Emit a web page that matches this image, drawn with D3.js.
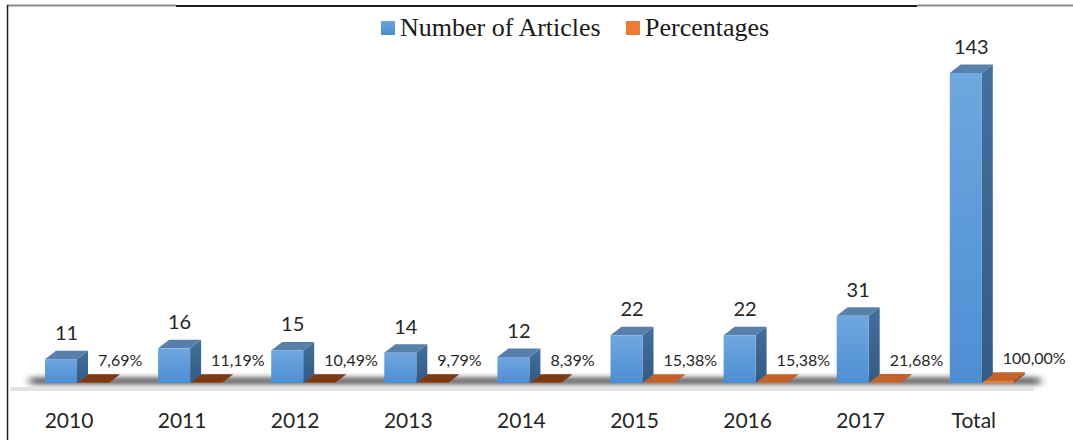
<!DOCTYPE html>
<html>
<head>
<meta charset="utf-8">
<script src="https://cdn.jsdelivr.net/npm/d3@7"></script>
<style>
  body { margin: 0; background: #fff; }
  svg { display: block; }
</style>
</head>
<body>
<div id="box"></div>
<script>
//Chart data
var categories = ["2010", "2011", "2012", "2013", "2014", "2015", "2016", "2017", "Total"];
var articles = [11, 16, 15, 14, 12, 22, 22, 31, 143];
var percentages = [0.0769, 0.1119, 0.1049, 0.0979, 0.0839, 0.1538, 0.1538, 0.2168, 1.0];
var percentLabels = ["7,69%", "11,19%", "10,49%", "9,79%", "8,39%", "15,38%", "15,38%", "21,68%", "100,00%"];
var seriesNames = ["Number of Articles", "Percentages"];

var width = 1073,
    height = 440;
    barW = 32;
    depthX = 11;
    depthY = 8.5;
    baseY = 383;

var svg = d3.select("#box").append("svg")
            .attr("width", width)
            .attr("height", height);

var defs = svg.append("defs");

//Gradients for the 3D faces
var gFront = defs.append("linearGradient").attr("id", "blueFront")
                 .attr("x1", 0).attr("y1", 0).attr("x2", 0).attr("y2", 1);
gFront.append("stop").attr("offset", "0%").attr("stop-color", "#6fa7df");
gFront.append("stop").attr("offset", "100%").attr("stop-color", "#4d8ed3");

var gSide = defs.append("linearGradient").attr("id", "blueSide")
                .attr("x1", 0).attr("y1", 0).attr("x2", 0).attr("y2", 1);
gSide.append("stop").attr("offset", "0%").attr("stop-color", "#42709d");
gSide.append("stop").attr("offset", "100%").attr("stop-color", "#335b85");

var gLegend = defs.append("linearGradient").attr("id", "blueLegend")
                  .attr("x1", 0).attr("y1", 0).attr("x2", 0).attr("y2", 1);
gLegend.append("stop").attr("offset", "0%").attr("stop-color", "#6ea6de");
gLegend.append("stop").attr("offset", "100%").attr("stop-color", "#4a8ad0");

defs.append("filter").attr("id", "blur")
    .attr("x", "-5%").attr("y", "-100%").attr("width", "110%").attr("height", "300%")
    .append("feGaussianBlur").attr("stdDeviation", "4 2.5");

//Scales
var x = d3.scalePoint()
          .domain(categories)
          .range([45, 45 + 113.1 * 8]);

var xSeries = d3.scaleBand()
                .domain(seriesNames)
                .range([0, barW * 2]);

var y = d3.scaleLinear()
          .domain([0, 143])
          .range([baseY, 73]);

var orangeTop = d3.scaleThreshold()
                  .domain([0.13])
                  .range(["#7b3a13", "#c3622b"]);

//Frame lines at top and left
svg.append("line").attr("x1", 7).attr("x2", 176).attr("y1", 5.5).attr("y2", 5.5)
   .style("stroke", "#8c8c8c").style("stroke-width", 2);
svg.append("line").attr("x1", 176).attr("x2", 917).attr("y1", 6).attr("y2", 6)
   .style("stroke", "#1e1e1e").style("stroke-width", 2);
svg.append("line").attr("x1", 917).attr("x2", 1073).attr("y1", 5.5).attr("y2", 5.5)
   .style("stroke", "#8c8c8c").style("stroke-width", 2);
svg.append("line").attr("x1", 7.5).attr("x2", 7.5).attr("y1", 5).attr("y2", height)
   .style("stroke", "#1e1e1e").style("stroke-width", 1.5);

//Floor with soft shadow
svg.append("rect").attr("x", 30).attr("y", 377).attr("width", 1010).attr("height", 8)
   .style("fill", "#6e6e6e").attr("filter", "url(#blur)");
svg.append("rect").attr("x", 10).attr("y", 387).attr("width", 1024).attr("height", 4)
   .style("fill", "#e2e2e2");

//Draw each category as a group
var groups = svg.selectAll("g.cat")
                .data(categories)
                .enter().append("g")
                .attr("class", "cat")
                .attr("transform", function(d) { return "translate(" + x(d) + ",0)"; });

//Orange slabs (percentages)
groups.each(function(d, i) {
    var g = d3.select(this);
    var x0 = xSeries(seriesNames[1]);
    var top = y(percentages[i]);
    g.append("polygon")
     .attr("points", [[x0, top], [x0 + barW, top], [x0 + barW + depthX, top - depthY], [x0 + depthX, top - depthY]].join(" "))
     .style("fill", orangeTop(percentages[i]));
    g.append("polygon")
     .attr("points", [[x0 + barW, top], [x0 + barW + depthX, top - depthY], [x0 + barW + depthX, baseY - depthY], [x0 + barW, baseY]].join(" "))
     .style("fill", "#a04d1c");
    g.append("rect")
     .attr("x", x0).attr("y", top)
     .attr("width", barW).attr("height", Math.max(0, baseY - top))
     .style("fill", "#ed7d31");
});

//Blue bars (number of articles)
groups.each(function(d, i) {
    var g = d3.select(this);
    var x0 = xSeries(seriesNames[0]);
    var top = y(articles[i]);
    g.append("polygon")
     .attr("points", [[x0 + barW, top], [x0 + barW + depthX, top - depthY], [x0 + barW + depthX, baseY - depthY], [x0 + barW, baseY]].join(" "))
     .style("fill", "url(#blueSide)");
    g.append("polygon")
     .attr("points", [[x0, top], [x0 + barW, top], [x0 + barW + depthX, top - depthY], [x0 + depthX, top - depthY]].join(" "))
     .style("fill", "#5780ab");
    g.append("rect")
     .attr("x", x0).attr("y", top)
     .attr("width", barW).attr("height", baseY - top)
     .style("fill", "url(#blueFront)");
    //Value label
    g.append("text")
     .attr("x", x0 + (barW + depthX) / 2)
     .attr("y", top - 19)
     .attr("text-anchor", "middle")
     .style("font-family", "Lato, 'Open Sans', sans-serif")
     .style("font-size", "20px")
     .style("fill", "#262626")
     .text(articles[i]);
    //Percentage label
    g.append("text")
     .attr("x", x0 + 53)
     .attr("y", y(percentages[i]) - 17)
     .style("font-family", "Lato, 'Open Sans', sans-serif")
     .style("font-size", "16px")
     .style("fill", "#262626")
     .text(percentLabels[i]);
});

//Category axis labels
svg.append("g").selectAll("text")
   .data(categories)
   .enter().append("text")
   .attr("x", function(d) { return x(d) + 24; })
   .attr("y", 428)
   .attr("text-anchor", "middle")
   .style("font-family", "Lato, 'Open Sans', sans-serif")
   .style("font-size", "21px")
   .style("fill", "#262626")
   .text(function(d) { return d; });

//Legend
var legendX = [381, 626];
var legendFill = ["url(#blueLegend)", "#ed7d31"];
var legend = svg.append("g").selectAll("g")
                .data(seriesNames)
                .enter().append("g")
                .attr("transform", function(d, i) { return "translate(" + legendX[i] + ",0)"; });
legend.append("rect")
      .attr("x", 0).attr("y", 21)
      .attr("width", 14).attr("height", 14)
      .style("fill", function(d, i) { return legendFill[i]; });
legend.append("text")
      .attr("x", 19).attr("y", 36)
      .style("font-family", "'Liberation Serif', 'Times New Roman', serif")
      .style("font-size", "26px")
      .style("fill", "#1a1a1a")
      .text(function(d) { return d; });
</script>
</body>
</html>
